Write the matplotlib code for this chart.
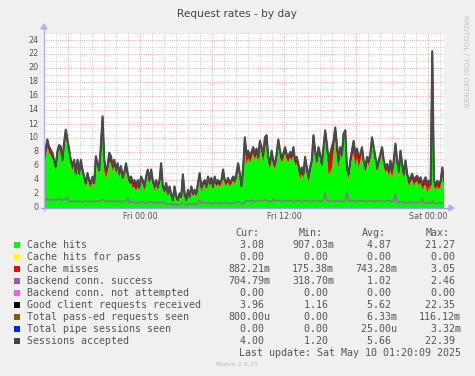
import numpy as np
import matplotlib
matplotlib.use("Agg")
import matplotlib.pyplot as plt
from matplotlib.patches import Rectangle, Polygon
from matplotlib.lines import Line2D
from matplotlib.transforms import blended_transform_factory

# ---------------- data ----------------
title = "Request rates - by day"
span_hours = 100 / 3          # Thu 16:00 -> Sat 01:20 (33h20m)
xtick_hours = [8, 20, 32]
xtick_labels = ["Fri 00:00", "Fri 12:00", "Sat 00:00"]
yticks = list(range(0, 25, 2))

sessions = [
    6.9, 8.5, 9.8, 8.8, 8.3, 7.9, 6.9, 6.0, 8.1, 9.0,
    8.8, 6.9, 9.3, 11.2, 9.8, 8.3, 6.9, 6.0, 6.9, 5.0,
    6.9, 5.0, 6.9, 5.5, 4.5, 3.6, 5.0, 4.0, 3.6, 4.5,
    3.6, 7.4, 6.4, 5.5, 9.0, 13.1, 6.9, 5.5, 6.0, 7.9,
    7.4, 6.0, 6.9, 5.5, 6.4, 5.0, 6.0, 4.5, 5.2, 6.4,
    5.0, 4.0, 4.5, 3.6, 4.0, 3.1, 4.0, 3.1, 4.5, 4.0,
    3.1, 4.5, 5.5, 4.0, 5.5, 4.0, 3.1, 4.0, 3.1, 4.0,
    6.4, 3.1, 2.6, 3.6, 2.1, 3.1, 2.0, 1.2, 3.1, 1.7,
    1.2, 2.1, 1.7, 4.8, 2.1, 1.2, 2.6, 1.7, 3.1, 2.1,
    2.6, 2.1, 3.6, 5.0, 3.1, 3.6, 4.0, 3.1, 4.5, 3.6,
    4.3, 3.1, 4.5, 3.6, 4.0, 3.6, 4.0, 5.5, 4.0, 3.8,
    4.3, 3.6, 4.0, 4.5, 4.0, 5.0, 6.4, 5.0,
    3.2, 5.8, 10.1, 7.7, 8.2, 7.3, 8.0, 8.7, 7.7, 8.5,
    7.3, 9.6, 8.7, 7.7, 10.1, 10.4, 7.3, 6.3, 8.2, 6.8,
    6.3, 7.7, 9.8, 8.2, 7.3, 7.7, 8.7, 7.7, 7.3, 8.0,
    7.5, 8.7, 6.8, 7.3, 6.3, 4.9, 5.8, 4.9, 7.3, 5.8,
    4.4, 5.8, 6.8, 10.4, 8.2, 6.8, 8.7, 7.7, 6.3, 8.7,
    11.1, 9.2, 6.8, 7.7, 8.7, 9.6, 11.5, 9.2, 6.8, 8.7,
    7.7, 10.6, 11.1, 5.8, 4.9, 6.8, 8.2, 9.6, 7.7, 8.5,
    7.3, 7.7, 8.7, 6.8, 5.8, 7.3, 6.8, 7.7, 10.1, 8.7,
    7.3, 5.8, 6.8, 7.7, 8.7, 6.8, 5.8, 6.3, 5.3, 6.8,
    5.3, 6.8, 9.2, 6.8, 5.3, 8.2, 6.3, 4.9, 6.8, 4.9,
    3.9, 4.4, 4.9, 3.9, 4.4, 4.6, 3.9, 4.4, 3.4, 3.9,
    4.4, 3.4, 3.9, 3.4, 22.4, 3.9, 3.4, 3.9, 3.4, 3.9,
    5.8, 4.0,
]

hits = [
    6.0, 7.2, 8.7, 7.9, 7.5, 7.1, 6.2, 5.3, 7.4, 8.3,
    8.1, 6.2, 8.6, 10.2, 9.1, 7.6, 6.2, 5.3, 6.2, 4.3,
    6.2, 4.3, 6.2, 4.8, 3.8, 2.9, 4.3, 3.3, 2.9, 3.8,
    2.9, 6.7, 5.7, 4.8, 8.3, 12.0, 5.3, 4.2, 5.1, 6.5,
    6.4, 5.2, 6.1, 4.8, 5.7, 4.3, 5.3, 3.9, 4.5, 5.6,
    4.3, 3.4, 3.5, 2.8, 3.0, 2.4, 3.1, 2.4, 3.8, 3.3,
    2.4, 3.8, 4.8, 3.3, 4.8, 3.3, 2.4, 3.3, 2.4, 3.3,
    5.7, 2.6, 2.1, 3.1, 1.6, 2.6, 1.5, 0.9, 2.6, 1.2,
    0.9, 1.6, 1.2, 4.3, 1.6, 0.9, 2.1, 1.2, 2.6, 1.6,
    2.1, 1.6, 3.1, 3.9, 2.2, 3.0, 3.4, 2.5, 3.9, 3.0,
    3.7, 2.5, 3.9, 3.0, 3.4, 3.0, 3.4, 4.7, 3.4, 3.2,
    3.7, 3.0, 3.4, 3.9, 3.4, 4.1, 5.4, 4.4,
    2.6, 4.8, 8.8, 6.1, 7.1, 6.4, 7.1, 7.8, 6.8, 7.6,
    6.4, 8.7, 7.8, 6.4, 8.5, 9.3, 6.5, 5.5, 7.4, 6.0,
    5.5, 6.7, 8.8, 7.2, 6.5, 6.9, 7.9, 6.9, 6.5, 7.2,
    6.7, 7.9, 6.0, 6.4, 5.4, 4.0, 4.9, 4.1, 6.5, 5.0,
    3.6, 5.0, 6.0, 9.6, 7.4, 6.0, 7.9, 6.9, 5.5, 7.9,
    10.3, 7.9, 4.7, 5.1, 5.6, 7.7, 10.2, 6.9, 5.7, 7.9,
    6.9, 9.8, 10.3, 5.0, 4.1, 6.0, 7.1, 7.9, 5.8, 7.1,
    5.7, 6.6, 7.9, 6.0, 5.0, 6.5, 6.0, 6.9, 9.3, 7.9,
    6.5, 5.0, 6.0, 6.9, 7.9, 6.0, 5.0, 5.5, 4.5, 5.4,
    4.2, 5.8, 8.4, 6.0, 4.5, 7.4, 5.5, 4.1, 6.0, 4.1,
    3.1, 3.6, 4.1, 3.1, 3.6, 3.8, 3.1, 3.6, 2.6, 3.1,
    3.3, 2.1, 2.9, 2.5, 21.3, 3.1, 2.6, 3.1, 2.6, 3.1,
    4.7, 3.0,
]

misses = [
    0.8, 1.2, 1.0, 0.8, 0.7, 0.7, 0.6, 0.6, 0.6, 0.6,
    0.6, 0.6, 0.6, 0.9, 0.6, 0.6, 0.6, 0.6, 0.6, 0.6,
    0.6, 0.6, 0.6, 0.6, 0.6, 0.6, 0.6, 0.6, 0.6, 0.6,
    0.6, 0.6, 0.6, 0.6, 0.6, 1.0, 1.5, 1.2, 0.8, 1.3,
    0.9, 0.7, 0.7, 0.6, 0.6, 0.6, 0.6, 0.5, 0.6, 0.7,
    0.6, 0.5, 0.9, 0.7, 0.9, 0.6, 0.8, 0.6, 0.6, 0.6,
    0.6, 0.6, 0.6, 0.6, 0.6, 0.6, 0.6, 0.6, 0.6, 0.6,
    0.6, 0.4, 0.4, 0.4, 0.4, 0.4, 0.4, 0.2, 0.4, 0.4,
    0.2, 0.4, 0.4, 0.4, 0.4, 0.2, 0.4, 0.4, 0.4, 0.4,
    0.4, 0.4, 0.4, 1.0, 0.8, 0.5, 0.5, 0.5, 0.5, 0.5,
    0.5, 0.5, 0.5, 0.5, 0.5, 0.5, 0.5, 0.7, 0.5, 0.5,
    0.5, 0.5, 0.5, 0.5, 0.5, 0.8, 0.9, 0.5,
    0.5, 0.9, 1.2, 1.5, 1.0, 0.8, 0.8, 0.8, 0.8, 0.8,
    0.8, 0.8, 0.8, 1.2, 1.5, 1.0, 0.7, 0.7, 0.7, 0.7,
    0.7, 0.9, 0.9, 0.9, 0.7, 0.7, 0.7, 0.7, 0.7, 0.7,
    0.7, 0.7, 0.7, 0.8, 0.8, 0.8, 0.8, 0.7, 0.7, 0.7,
    0.7, 0.7, 0.7, 0.7, 0.7, 0.7, 0.7, 0.7, 0.7, 0.7,
    0.7, 1.2, 2.0, 2.5, 3.0, 1.8, 1.2, 2.2, 1.0, 0.7,
    0.7, 0.7, 0.7, 0.7, 0.7, 0.7, 1.0, 1.6, 1.8, 1.3,
    1.5, 1.0, 0.7, 0.7, 0.7, 0.7, 0.7, 0.7, 0.7, 0.7,
    0.7, 0.7, 0.7, 0.7, 0.7, 0.7, 0.7, 0.7, 0.7, 1.3,
    1.0, 0.9, 0.7, 0.7, 0.7, 0.7, 0.7, 0.7, 0.7, 0.7,
    0.7, 0.7, 0.7, 0.7, 0.7, 0.7, 0.7, 0.7, 0.7, 0.7,
    1.0, 1.2, 0.9, 0.8, 1.0, 0.7, 0.7, 0.7, 0.7, 0.7,
    1.0, 0.9,
]

backend = [
    1.2, 1.1, 1.3, 1.2, 1.1, 1.2, 1.2, 1.1, 1.2, 1.3,
    1.2, 1.1, 1.2, 1.3, 1.5,
    0.9, 1.0, 0.9, 1.0, 1.0, 0.9, 1.0, 0.9, 0.9, 1.0,
    1.0, 0.9, 1.0, 0.9, 1.0, 0.9, 1.0, 1.0, 0.9, 1.0,
    1.3,
    1.0, 0.9, 1.0, 0.9, 1.0, 1.0, 0.9, 1.0, 0.9, 1.0, 0.9, 1.0, 0.9, 1.0,
    1.4,
    0.8, 0.8, 0.9, 0.8, 0.7, 0.8, 0.8, 0.9, 0.8, 0.8, 0.7,
    0.8, 0.8, 0.9, 0.8, 0.7, 0.8, 0.8, 0.7, 0.8, 0.8, 0.7,
    0.6, 0.6, 0.5, 0.6, 0.4, 0.6, 0.5, 0.4, 0.6, 0.5,
    0.7, 0.6, 0.4, 0.5, 0.6, 0.5, 0.6, 0.6, 0.5, 0.6,
    1.2,
    0.7, 0.8, 0.7, 0.7, 0.8, 0.7, 0.6, 0.7, 0.8, 0.7, 0.7, 0.6,
    0.8, 0.7, 0.7, 0.8, 0.7, 0.6, 0.7, 0.8, 0.7, 0.8, 0.9, 0.8,
    0.6, 0.5,
    0.9, 1.1, 1.0, 1.0, 1.1, 1.0, 0.9, 1.0, 1.1, 1.0, 1.0, 1.1, 1.2, 1.0, 1.0, 0.9,
    1.0, 1.3,
    1.0, 1.1, 1.0, 1.0, 0.9, 1.0, 1.1, 1.0, 1.0, 1.1, 1.0, 0.9, 1.0, 1.0, 1.1,
    1.0, 0.9, 1.0, 1.0, 1.1, 1.0, 1.0, 0.9, 1.0, 1.1, 1.0, 1.0, 0.9, 1.0, 1.1,
    2.2,
    1.0, 1.1, 1.0, 0.9, 1.0, 1.0, 1.1, 1.0, 1.0, 0.9, 1.0, 1.1,
    2.3,
    1.0, 1.0, 1.1, 1.0, 0.9, 1.0, 1.0, 1.1, 1.0, 1.0, 0.9, 1.0, 1.1, 1.0,
    1.0, 0.9, 1.0, 1.0, 1.1, 1.0, 1.0, 0.9, 1.0, 1.0, 1.1, 1.0, 0.9, 1.0,
    2.0,
    0.8, 0.8, 0.9, 0.8, 0.8, 0.7, 0.8, 0.8, 0.9, 0.8, 0.8, 0.7, 0.8, 0.8, 0.8,
    1.4,
    0.7, 0.7, 0.8, 0.7, 0.7, 1.0, 0.7, 0.6, 0.7, 0.7, 0.6, 0.7, 0.7,
]

legend_labels = ["Cache hits", "Cache hits for pass", "Cache misses",
                 "Backend conn. success", "Backend conn. not attempted",
                 "Good client requests received", "Total pass-ed requests seen",
                 "Total pipe sessions seen", "Sessions accepted"]
legend_colors = ["#00FF00", "#FFFF00", "#FF0000", "#A05AA0", "#FF55FF",
                 "#000000", "#7F5F00", "#0022FF", "#444444"]
cur_vals = ["3.08", "0.00", "882.21m", "704.79m", "0.00", "3.96", "800.00u", "0.00", "4.00"]
min_vals = ["907.03m", "0.00", "175.38m", "318.70m", "0.00", "1.16", "0.00", "0.00", "1.20"]
avg_vals = ["4.87", "0.00", "743.28m", "1.02", "0.00", "5.62", "6.33m", "25.00u", "5.66"]
max_vals = ["21.27", "0.00", "3.05", "2.46", "0.00", "22.35", "116.12m", "3.32m", "22.39"]
last_update = "Last update: Sat May 10 01:20:09 2025"

# ---------------- figure ----------------
W, H = 475, 376
fig = plt.figure(figsize=(W / 100, H / 100), dpi=100, facecolor="#F0F0F0")
PX_L, PX_T, PX_W, PX_H = 44, 33, 400, 175
ax = fig.add_axes([PX_L / W, 1 - (PX_T + PX_H) / H, PX_W / W, PX_H / H])
ax.set_facecolor("white")
ax.set_xlim(0, span_hours)
ax.set_ylim(0, 25)
for s in ax.spines.values():
    s.set_visible(False)
ax.set_xticks([])
ax.set_yticks([])

minor_c = "#D0D0D0"
major_c = "#F0A8A8"
dots = (0, (1, 1.2))
for h in range(1, int(span_hours) + 1):
    c = major_c if h % 6 == 2 else minor_c
    ax.axvline(h, color=c, lw=0.72, ls=dots, zorder=0.5)
for v in range(1, 26):
    c = major_c if v % 2 == 0 else minor_c
    ax.axhline(v, color=c, lw=0.72, ls=dots, zorder=0.5)

t = np.linspace(0, span_hours, len(sessions))
hits_a = np.array(hits)
miss_a = np.array(misses)
ax.stackplot(t, hits_a, miss_a, colors=["#00FF00", "#FF0000"], lw=0, zorder=1)
ax.plot(t, hits_a + miss_a, color="#000000", lw=1.0, zorder=2)
ax.plot(t, sessions, color="#4A4A4A", lw=1.5, zorder=3)
ax.plot(t, backend, color="#9A6A9A", lw=1.1, zorder=2.5)


def fx(x):
    return x / W


def fy(y):
    return 1 - y / H


axis_c = "#B0B0F0"
fig.add_artist(Line2D([fx(44), fx(44)], [fy(211), fy(29)], color=axis_c, lw=0.9))
fig.add_artist(Polygon([(fx(41), fy(29)), (fx(47), fy(29)), (fx(44), fy(24))],
                       closed=True, color=axis_c, transform=fig.transFigure))
fig.add_artist(Line2D([fx(41), fx(449)], [fy(208), fy(208)], color="#A0A0EE", lw=0.9))
fig.add_artist(Polygon([(fx(449), fy(205)), (fx(449), fy(211)), (fx(454), fy(208))],
                       closed=True, color=axis_c, transform=fig.transFigure))

# tick labels
ty = blended_transform_factory(fig.transFigure, ax.transData)
for v in yticks:
    ax.text(fx(38.5), v, str(v), transform=ty, ha="right", va="center",
            fontsize=5.8, color="#555555", family="DejaVu Sans")
tx = blended_transform_factory(ax.transData, fig.transFigure)
for h, lab in zip(xtick_hours, xtick_labels):
    ax.text(h, fy(216.5), lab, transform=tx, ha="center", va="center",
            fontsize=5.8, color="#555555", family="DejaVu Sans")

fig.text(fx(237), fy(14), title, ha="center", va="center", fontsize=7.6,
         color="#444444", family="DejaVu Sans")
fig.text(fx(465), fy(15), "RRDTOOL / TOBI OETIKER", rotation=270, ha="center",
         va="top", fontsize=5.2, color="#C4C4C4", family="DejaVu Sans")

# legend
mono = dict(family="DejaVu Sans Mono", fontsize=7.2, color="#555555", va="center")
col_right = [270, 334, 397, 461]
for hdr, r in zip(["Cur:", "Min:", "Avg:", "Max:"], col_right):
    fig.text(fx(r - 35), fy(233.5), hdr, ha="left", **mono)


def fmt(s):
    s = s if s[-1].isalpha() else s + " "
    return s.rjust(7)


for i, lab in enumerate(legend_labels):
    y = 245.3 + 12 * i
    fig.add_artist(Rectangle((fx(14), fy(y + 3)), 6 / W, 6 / H, color=legend_colors[i],
                             transform=fig.transFigure, lw=0))
    fig.text(fx(26.7), fy(y), lab, ha="left", **mono)
    for vals, r in zip([cur_vals, min_vals, avg_vals, max_vals], col_right):
        fig.text(fx(r - 42.1), fy(y), fmt(vals[i]), ha="left", **mono)

fig.text(fx(461), fy(353.3), last_update, ha="right", **mono)
fig.text(fx(237), fy(364), "Munin 2.0.33", ha="center", va="center", fontsize=4.6,
         color="#BBBBBB", family="DejaVu Sans")

fig.savefig("out.png", dpi=100, facecolor=fig.get_facecolor())
